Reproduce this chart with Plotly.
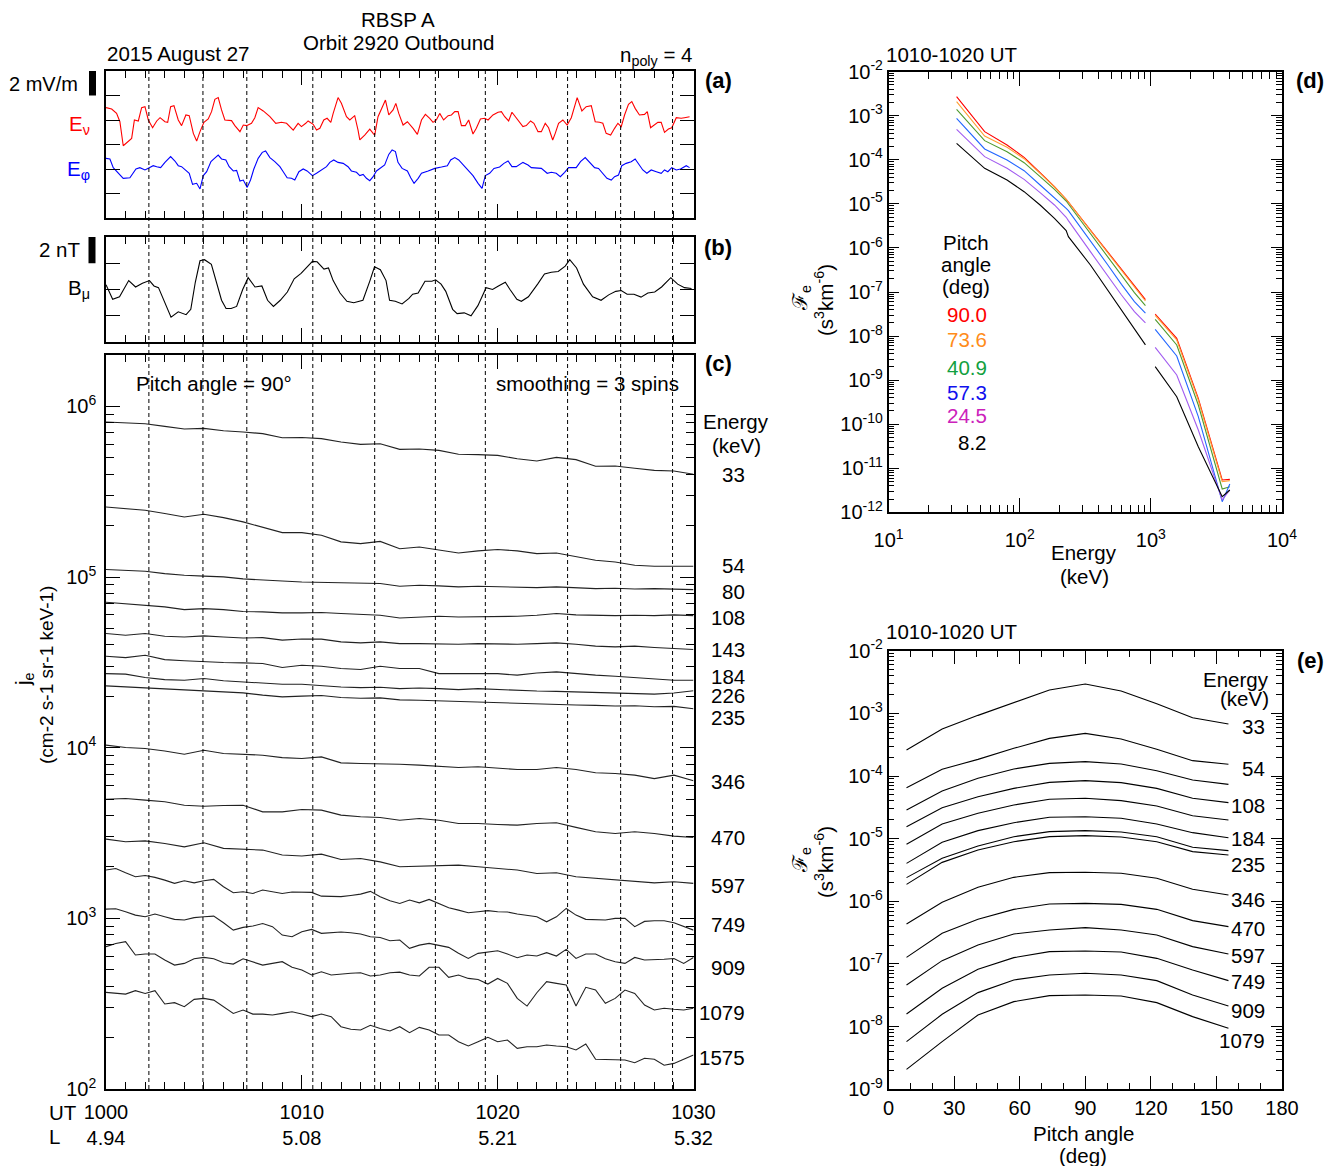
import plotly.graph_objects as go

# page is rendered with the browser's default 8px body margin; compensate so the
# picture lands on the reference pixel grid
OFF = 8
W, H = 1334 - OFF, 1166 - OFF
FONT = "Liberation Sans, Arial, Helvetica, sans-serif"
TXT = 20.5


def fx(px):
    return (px - OFF) / W


def fy(py):
    return 1 - (py - OFF) / H


# ======================= DATA =======================
# time axis: minutes after 1000 UT, 2015 August 27
ut_ticks = [0, 10, 20, 30]
ut_labels = ["1000", "1010", "1020", "1030"]
L_labels = ["4.94", "5.08", "5.21", "5.32"]
wave_times = [2.19, 4.95, 7.19, 10.56, 13.72, 16.82, 19.37, 23.57, 26.28, 28.93]

# ---- panel (a): E_nu, E_phi perturbations (mV/m)
t_Enu = [0.00, 0.29, 0.54, 0.71, 0.88, 1.31, 1.45, 1.65, 1.82, 1.99, 2.16, 2.38, 2.59, 2.76, 3.01, 3.15,
         3.30, 3.47, 3.69, 3.86, 4.08, 4.25, 4.46, 4.63, 4.80, 5.00, 5.22, 5.39, 5.56, 5.73, 5.90, 6.07,
         6.41, 6.58, 6.84, 7.01, 7.18, 7.43, 7.60, 7.77, 8.03, 8.37, 8.67, 8.96, 9.22, 9.39, 9.56, 9.81,
         9.98, 10.20, 10.32, 10.58, 10.75, 10.92, 11.12, 11.29, 11.48, 11.60, 11.85, 12.02, 12.28, 12.45,
         12.70, 12.87, 12.96, 13.21, 13.47, 13.64, 13.72, 13.89, 14.06, 14.27, 14.44, 14.66, 14.80,
         14.95, 15.17, 15.39, 15.68, 15.90, 16.11, 16.31, 16.53, 16.70, 16.87, 17.04, 17.24, 17.47, 17.64,
         17.81, 17.98, 18.15, 18.35, 18.52, 18.74, 18.91, 19.12, 19.34, 19.51, 19.76, 20.02, 20.19, 20.36,
         20.56, 20.73, 20.90, 21.12, 21.29, 21.46, 21.68, 21.85, 22.06, 22.23, 22.43, 22.60, 22.81, 22.94,
         23.11, 23.33, 23.55, 23.76, 23.89, 24.06, 24.30, 24.52, 24.78, 24.98, 25.20, 25.37, 25.54, 25.77,
         25.97, 26.14, 26.31, 26.48, 26.68, 26.85, 27.02, 27.24, 27.50, 27.64, 27.81, 28.01, 28.18, 28.35,
         28.52, 28.72, 28.89, 29.12, 29.37, 29.54, 29.80]
E_nu = [1.01, 0.90, 0.54, -0.14, -2.10, -1.50, 0.00, -0.08, 1.01, 1.09, 0.00, -0.63, -0.08, 0.19, -0.14, -0.19,
        1.09, 1.17, 0.00, -0.46, 0.41, 0.35, -1.09, -1.72, -0.95, -0.19, 0.08, 0.68, 1.69, 1.83, 0.82, 0.00,
        -0.05, -0.46, -0.95, -0.41, -0.46, -0.27, 0.19, 1.01, 0.74, 0.27, -0.27, -0.19, -0.27, -0.54, -0.82, -0.27,
        -0.54, -0.27, -0.08, -0.35, -0.82, -0.68, 0.00, 0.14, -0.19, 0.54, 1.83, 1.36, 0.27, 0.00,
        0.35, -0.82, -1.63, -1.23, -0.74, -1.09, -1.23, 0.27, 0.82, 1.63, 0.41, 0.82, 1.36,
        0.54, -0.41, -0.14, -0.68, -1.17, 0.00, 0.46, 0.14, -0.19, 0.00, 0.54, 0.00, 0.35, 0.41,
        0.68, 0.68, -0.46, -0.46, 0.00, -1.14, -0.68, 0.08, 0.14, 0.00, 0.41, 0.63, 0.68, 0.27,
        -0.08, 0.63, 0.27, -0.27, -0.54, -0.46, -0.08, -0.27, -0.95, -0.95, -0.27, -0.63, -1.63, -1.09,
        -0.27, 0.00, -0.41, 0.19, 0.95, 1.83, 0.74, 1.09, 1.17, -0.14, -0.19, -0.27, -1.09, -1.23,
        -0.68, -0.27, -0.54, 0.41, 1.28, 1.50, 0.95, 0.41, 0.46, 0.68, -0.63, -0.41, -0.19, -0.19,
        -1.01, -0.74, -0.63, 0.19, 0.14, 0.19, 0.27]

t_Ephi = [0.00, 0.20, 0.37, 0.63, 0.88, 1.22, 1.39, 1.53, 1.73, 1.99, 2.21, 2.41, 2.59, 2.79, 3.01,
          3.30, 3.52, 3.69, 3.86, 4.08, 4.25, 4.42, 4.63, 4.80, 4.97, 5.14, 5.36, 5.51, 5.73, 5.90,
          6.12, 6.29, 6.50, 6.67, 6.84, 7.01, 7.21, 7.38, 7.55, 7.77, 7.98, 8.15, 8.37, 8.62, 8.88,
          9.05, 9.25, 9.47, 9.64, 9.85, 10.07, 10.27, 10.54, 10.75, 11.00, 11.26, 11.43, 11.63, 11.85, 12.11,
          12.36, 12.53, 12.79, 12.96, 13.13, 13.30, 13.47, 13.64, 13.81, 14.01, 14.23, 14.44, 14.61, 14.78,
          14.91, 15.12, 15.39, 15.56, 15.73, 15.94, 16.11, 16.45, 16.79, 17.13, 17.43, 17.60, 17.81, 18.01,
          18.23, 18.49, 18.74, 19.00, 19.20, 19.37, 19.59, 19.81, 20.10, 20.32, 20.53, 20.73, 20.95, 21.29,
          21.55, 21.72, 22.23, 22.53, 22.74, 22.99, 23.20, 23.42, 23.62, 24.01, 24.23, 24.47, 24.69, 24.95,
          25.15, 25.37, 25.58, 25.80, 25.97, 26.17, 26.34, 26.56, 26.82, 27.02, 27.24, 27.41, 27.62, 27.84,
          28.10, 28.35, 28.52, 28.69, 28.89, 29.12, 29.34, 29.63, 29.80]
E_phi = [0.87, 0.82, 0.11, -0.35, -0.76, -0.71, -0.35, 0.00, 0.11, -0.08, 0.11, 0.27, 0.19, 0.11, 0.54,
         1.01, 0.65, 0.27, 0.19, -0.16, -0.35, -1.25, -1.17, -1.63, -0.54, -0.22, 0.60, 0.82, 1.14, 0.82,
         0.74, 0.19, -0.16, -0.11, -0.98, -0.90, -1.50, -0.90, 0.00, 0.87, 1.36, 1.47, 0.93, 0.60, 0.19,
         -0.22, -0.71, -0.76, -0.90, -0.22, 0.00, -0.16, -0.54, -0.35, -0.08, 0.19, 0.54, 0.74, 0.54, 0.46,
         0.19, -0.16, -0.27, -0.54, -0.44, -0.76, -0.95, -0.63, -0.16, 0.11, 0.33, 1.19, 1.55, 1.42,
         0.54, 0.05, -0.16, -0.71, -1.17, -0.76, -0.35, -0.16, 0.05, 0.16, 0.27, 0.74, 0.93, 0.74,
         0.33, -0.08, -0.54, -1.17, -1.58, -0.54, -0.35, 0.05, 0.16, 0.46, 0.65, 0.19, 0.19, 0.54,
         0.33, 0.11, 0.05, -0.35, -0.27, -0.35, -0.63, -0.27, 0.11, 0.11, 0.60, 0.93, 0.54, 0.11,
         0.05, -0.35, -0.76, -0.90, -0.63, -0.49, 0.27, 0.46, 0.60, 0.82, 0.33, -0.08, -0.35, -0.08,
         -0.22, -0.35, -0.08, -0.22, 0.11, -0.08, 0.00, 0.27, 0.11]

# ---- panel (b): B_mu perturbation (nT)
t_Bmu = [0.00, 0.34, 0.69, 1.16, 1.51, 1.86, 2.22, 2.45, 2.68, 3.04, 3.32, 3.69, 4.09, 4.33, 4.56,
         4.80, 5.03, 5.38, 5.62, 5.90, 6.13, 6.39, 6.67, 6.98, 7.26, 7.61, 7.96, 8.25, 8.55, 8.90,
         9.26, 9.61, 9.96, 10.31, 10.54, 10.78, 11.13, 11.36, 11.60, 11.95, 12.30, 12.65, 13.12, 13.48, 13.71,
         14.01, 14.30, 14.48, 14.77, 15.12, 15.47, 15.66, 15.94, 16.29, 16.64, 16.83, 17.11, 17.35, 17.70, 17.93,
         18.29, 18.64, 18.99, 19.41, 19.74, 20.04, 20.39, 20.63, 20.98, 21.21, 21.57, 22.04, 22.39, 22.74, 23.09,
         23.45, 23.68, 24.03, 24.38, 24.85, 25.28, 25.67, 26.03, 26.31, 26.61, 26.96, 27.32, 27.67, 28.02, 28.37,
         28.84, 29.19, 29.54, 29.90]
B_mu = [0.36, -0.74, -0.55, 0.68, 0.19, 0.47, 0.68, 0.27, 0.14, -1.10, -2.11, -1.70, -1.92, -1.51, 0.55,
        2.19, 2.27, 1.92, 0.68, -0.82, -1.45, -1.45, -1.29, 0.00, 0.90, 0.19, 0.27, -0.82, -1.29, -0.82,
        -0.19, 0.82, 1.23, 1.78, 2.14, 2.11, 1.56, 1.64, 0.68, -0.27, -0.90, -1.01, -0.82, 0.68, 1.73,
        1.51, 0.68, -0.82, -0.90, -1.10, -0.68, -0.36, -0.27, 0.63, 0.63, 0.74, 0.41, -0.14, -1.51, -1.84,
        -1.78, -2.00, -1.23, 0.14, 0.00, 0.27, 0.55, 0.00, -0.74, -0.90, -0.55, 0.41, 1.18, 1.32, 1.37,
        1.78, 2.27, 1.64, 0.41, -0.55, -0.82, -0.41, -0.14, -0.08, -0.36, -0.36, -0.58, -0.27, -0.19, 0.19,
        0.90, 0.41, 0.14, 0.08]

# ---- panel (c): log10 of j_e (cm-2 s-1 sr-1 keV-1), pitch angle 90 deg
t_1min = list(range(31))                  # sample times, 1-min cadence
t_half = [i * 0.5 for i in range(61)]     # sample times, 0.5-min cadence
je33 = [5.908, 5.904, 5.898, 5.883, 5.867, 5.871, 5.857, 5.850, 5.840, 5.816, 5.818, 5.811, 5.791, 5.777, 5.781, 5.748,
        5.750, 5.742, 5.719, 5.717, 5.713, 5.693, 5.680, 5.701, 5.688, 5.649, 5.651, 5.637, 5.625, 5.621, 5.602]
je54 = [5.410, 5.401, 5.391, 5.372, 5.352, 5.368, 5.348, 5.323, 5.293, 5.260, 5.260, 5.245, 5.206, 5.196, 5.209, 5.166,
        5.176, 5.157, 5.141, 5.153, 5.161, 5.153, 5.137, 5.141, 5.118, 5.098, 5.088, 5.069, 5.063, 5.063, 5.063]
je80 = [5.044, 5.040, 5.034, 5.020, 5.010, 5.005, 5.001, 4.989, 4.985, 4.977, 4.971, 4.969, 4.966, 4.962, 4.962, 4.946,
        4.952, 4.948, 4.942, 4.946, 4.942, 4.940, 4.938, 4.942, 4.936, 4.932, 4.934, 4.930, 4.932, 4.928, 4.926]
je108 = [4.852, 4.844, 4.835, 4.825, 4.809, 4.815, 4.809, 4.798, 4.796, 4.790, 4.790, 4.792, 4.786, 4.782, 4.776, 4.760,
         4.766, 4.770, 4.766, 4.766, 4.770, 4.770, 4.776, 4.786, 4.778, 4.774, 4.774, 4.776, 4.774, 4.778, 4.774]
je143 = [4.669, 4.659, 4.669, 4.653, 4.649, 4.655, 4.649, 4.643, 4.645, 4.630, 4.637, 4.636, 4.620, 4.614, 4.620, 4.610,
         4.610, 4.606, 4.606, 4.610, 4.606, 4.606, 4.610, 4.614, 4.606, 4.595, 4.591, 4.595, 4.587, 4.581, 4.575]
je184 = [4.536, 4.528, 4.542, 4.516, 4.509, 4.503, 4.499, 4.497, 4.493, 4.470, 4.483, 4.477, 4.464, 4.458, 4.477, 4.464,
         4.464, 4.434, 4.434, 4.438, 4.434, 4.425, 4.438, 4.444, 4.434, 4.425, 4.419, 4.411, 4.399, 4.395, 4.395]
je226 = [4.434, 4.431, 4.411, 4.399, 4.395, 4.405, 4.392, 4.386, 4.376, 4.372, 4.372, 4.362, 4.356, 4.352, 4.354, 4.346,
         4.350, 4.346, 4.340, 4.346, 4.340, 4.336, 4.332, 4.330, 4.326, 4.326, 4.322, 4.318, 4.314, 4.320, 4.334]
je235 = [4.362, 4.356, 4.351, 4.345, 4.337, 4.333, 4.329, 4.321, 4.308, 4.298, 4.302, 4.306, 4.294, 4.290, 4.292, 4.280,
         4.278, 4.274, 4.270, 4.266, 4.264, 4.262, 4.258, 4.254, 4.250, 4.248, 4.244, 4.246, 4.240, 4.242, 4.228]
je346 = [4.015, 4.001, 3.995, 3.981, 3.962, 3.985, 3.966, 3.962, 3.956, 3.942, 3.937, 3.946, 3.911, 3.907, 3.907, 3.903,
         3.898, 3.892, 3.884, 3.888, 3.878, 3.872, 3.872, 3.884, 3.872, 3.853, 3.849, 3.839, 3.819, 3.839, 3.806]
je470 = [3.698, 3.702, 3.693, 3.683, 3.663, 3.657, 3.661, 3.663, 3.624, 3.624, 3.638, 3.634, 3.605, 3.595, 3.591, 3.575,
         3.585, 3.575, 3.556, 3.556, 3.550, 3.546, 3.556, 3.560, 3.533, 3.507, 3.497, 3.507, 3.497, 3.482, 3.474]
je597 = [3.464, 3.449, 3.454, 3.439, 3.419, 3.443, 3.410, 3.404, 3.400, 3.371, 3.365, 3.376, 3.345, 3.351, 3.331, 3.302,
         3.306, 3.306, 3.312, 3.302, 3.292, 3.283, 3.263, 3.267, 3.244, 3.234, 3.224, 3.214, 3.208, 3.214, 3.205]
je749 = [3.283, 3.292, 3.267, 3.244, 3.251, 3.240, 3.224, 3.205, 3.220, 3.208, 3.220, 3.228, 3.185, 3.150, 3.156, 3.146,
         3.166, 3.156, 3.146, 3.154, 3.152, 3.152, 3.130, 3.127, 3.127, 3.134, 3.142, 3.158, 3.127, 3.103, 3.087, 3.107,
         3.091, 3.111, 3.087, 3.062, 3.048, 3.033, 3.039, 3.045, 3.039, 3.037, 3.025, 3.017, 3.009, 2.980, 3.009, 3.058,
         3.019, 2.994, 2.990, 2.990, 3.000, 3.000, 2.951, 2.982, 2.986, 2.986, 2.974, 2.951, 2.931]
je909 = [3.054, 3.056, 3.039, 3.019, 3.009, 3.025, 3.009, 2.994, 2.990, 3.004, 3.009, 3.013, 2.974, 2.931, 2.947, 2.955,
         2.970, 2.951, 2.902, 2.892, 2.922, 2.935, 2.912, 2.916, 2.920, 2.916, 2.908, 2.892, 2.888, 2.869, 2.873, 2.824,
         2.843, 2.853, 2.843, 2.830, 2.795, 2.765, 2.795, 2.804, 2.810, 2.791, 2.769, 2.785, 2.779, 2.799, 2.779, 2.818,
         2.765, 2.791, 2.791, 2.763, 2.746, 2.736, 2.771, 2.756, 2.756, 2.760, 2.765, 2.736, 2.771]
je1079 = [2.834, 2.853, 2.863, 2.785, 2.791, 2.791, 2.756, 2.726, 2.736, 2.763, 2.771, 2.763, 2.740, 2.732, 2.763, 2.746,
          2.726, 2.736, 2.746, 2.713, 2.697, 2.668, 2.687, 2.668, 2.674, 2.678, 2.681, 2.662, 2.668, 2.681, 2.685, 2.668,
          2.662, 2.713, 2.713, 2.654, 2.668, 2.648, 2.642, 2.615, 2.648, 2.619, 2.531, 2.486, 2.564, 2.629, 2.619, 2.609,
          2.486, 2.596, 2.580, 2.502, 2.531, 2.580, 2.560, 2.492, 2.463, 2.473, 2.467, 2.463, 2.473]
je1575 = [2.566, 2.560, 2.556, 2.576, 2.560, 2.576, 2.498, 2.506, 2.482, 2.525, 2.531, 2.521, 2.482, 2.443, 2.463, 2.439,
          2.439, 2.434, 2.443, 2.453, 2.439, 2.424, 2.439, 2.424, 2.365, 2.350, 2.346, 2.373, 2.355, 2.340, 2.365, 2.330,
          2.361, 2.346, 2.316, 2.316, 2.277, 2.252, 2.277, 2.303, 2.277, 2.287, 2.238, 2.248, 2.248, 2.258, 2.252, 2.248,
          2.229, 2.264, 2.174, 2.174, 2.170, 2.170, 2.154, 2.180, 2.174, 2.139, 2.150, 2.174, 2.199]
energies_c = ["33", "54", "80", "108", "143", "184", "226", "235", "346", "470", "597", "749", "909", "1079", "1575"]

# ---- panel (d): log10 phase space density vs energy, 1010-1020 UT
E_low = [33, 54, 80, 108, 143, 184, 226, 235, 346, 470, 597, 749, 909]
E_high = [1079, 1575, 2300, 3500, 4000]
fd_red = [-2.567, -3.361, -3.664, -3.944, -4.292, -4.609, -4.897, -4.957, -5.593, -6.092, -6.486, -6.849, -7.174,
          -7.499, -8.052, -9.413, -11.267, -11.252]
fd_orange = [-2.680, -3.459, -3.717, -3.974, -4.307, -4.617, -4.897, -4.957, -5.608, -6.122, -6.516, -6.879, -7.204,
             -7.530, -8.089, -9.451, -11.305, -11.282]
fd_green = [-2.854, -3.565, -3.815, -4.065, -4.382, -4.670, -4.935, -5.003, -5.684, -6.213, -6.637, -7.015, -7.310,
            -7.620, -8.203, -9.565, -11.471, -11.418]
fd_blue = [-3.058, -3.754, -4.004, -4.246, -4.571, -4.851, -5.101, -5.154, -5.835, -6.387, -6.826, -7.220, -7.480,
           -7.847, -8.453, -9.830, -11.759, -11.358]
fd_purple = [-3.308, -3.928, -4.193, -4.443, -4.746, -5.025, -5.305, -5.381, -6.085, -6.637, -7.068, -7.446, -7.700,
             -8.256, -8.884, -10.132, -11.721, -11.494]
fd_black = [-3.626, -4.193, -4.458, -4.723, -5.025, -5.328, -5.608, -5.744, -6.387, -6.955, -7.424, -7.825, -8.200,
            -8.695, -9.376, -10.510, -11.645, -11.494]
pa_labels_d = ["90.0", "73.6", "40.9", "57.3", "24.5", "8.2"]

# ---- panel (e): log10 phase space density vs pitch angle, 1010-1020 UT
pitch_e = [8.2, 24.5, 40.9, 57.3, 73.6, 90.0, 106.4, 122.7, 139.1, 155.5]
fe33 = [-3.585, -3.250, -3.032, -2.824, -2.627, -2.531, -2.643, -2.845, -3.069, -3.170]
fe54 = [-4.186, -3.893, -3.734, -3.558, -3.399, -3.319, -3.409, -3.574, -3.755, -3.813]
fe80 = [-4.542, -4.239, -4.037, -3.888, -3.798, -3.771, -3.808, -3.915, -4.064, -4.133]
fe108 = [-4.808, -4.505, -4.330, -4.197, -4.101, -4.074, -4.106, -4.197, -4.356, -4.425]
fe143 = [-5.090, -4.766, -4.595, -4.463, -4.372, -4.356, -4.393, -4.478, -4.633, -4.702]
fe184 = [-5.394, -5.058, -4.872, -4.745, -4.659, -4.649, -4.675, -4.766, -4.904, -4.984]
fe226 = [-5.622, -5.314, -5.117, -4.968, -4.888, -4.872, -4.893, -4.968, -5.138, -5.191]
fe235 = [-5.729, -5.378, -5.181, -5.048, -4.968, -4.952, -4.973, -5.048, -5.207, -5.260]
fe346 = [-6.362, -6.016, -5.776, -5.617, -5.542, -5.537, -5.553, -5.633, -5.808, -5.899]
fe470 = [-6.894, -6.511, -6.287, -6.128, -6.042, -6.032, -6.048, -6.128, -6.308, -6.404]
fe597 = [-7.335, -6.947, -6.697, -6.521, -6.457, -6.420, -6.457, -6.537, -6.723, -6.840]
fe749 = [-7.798, -7.388, -7.085, -6.899, -6.803, -6.793, -6.808, -6.910, -7.096, -7.266]
fe909 = [-8.239, -7.803, -7.457, -7.255, -7.175, -7.149, -7.175, -7.266, -7.495, -7.670]
fe1079 = [-8.681, -8.239, -7.814, -7.601, -7.505, -7.495, -7.511, -7.617, -7.840, -8.027]
energies_e_labelled = ["33", "54", "108", "184", "235", "346", "470", "597", "749", "909", "1079"]

# ======================= FIGURE =======================
A_X = [fx(106), fx(693.5)]
A_Y = [fy(218), fy(71)]
B_Y = [fy(342), fy(237)]
C_Y = [fy(1089), fy(355)]
D_X = [fx(888.6), fx(1282)]
D_Y = [fy(512.3), fy(71.7)]
E_Y = [fy(1089.3), fy(650.7)]

fig = go.Figure()

NU_OFFSET, PHI_OFFSET = 2.0, -2.0
fig.add_trace(go.Scatter(x=t_Enu, y=[v + NU_OFFSET for v in E_nu], xaxis="x", yaxis="y",
                         mode="lines", line=dict(color="#ff0000", width=1.1)))
fig.add_trace(go.Scatter(x=t_Ephi, y=[v + PHI_OFFSET for v in E_phi], xaxis="x", yaxis="y",
                         mode="lines", line=dict(color="#0000ff", width=1.1)))
fig.add_trace(go.Scatter(x=t_Bmu, y=B_mu, xaxis="x2", yaxis="y2",
                         mode="lines", line=dict(color="black", width=1.1)))

series_c = [je33, je54, je80, je108, je143, je184, je226, je235, je346, je470, je597,
            je749, je909, je1079, je1575]
for s in series_c:
    tt = t_1min if len(s) == len(t_1min) else t_half
    fig.add_trace(go.Scatter(x=tt, y=[10 ** v for v in s], xaxis="x3", yaxis="y3",
                             mode="lines", line=dict(color="#222222", width=1.1)))

d_colors = ["#ff0000", "#ffa033", "#4e9a2e", "#2266ff", "#a25cf0", "#000000"]
d_series = [fd_red, fd_orange, fd_green, fd_blue, fd_purple, fd_black]
nlow = len(E_low)
for col, s in zip(d_colors, d_series):
    xs = E_low + [None] + E_high
    ys = [10 ** v for v in s[:nlow]] + [None] + [10 ** v for v in s[nlow:]]
    fig.add_trace(go.Scatter(x=xs, y=ys, xaxis="x4", yaxis="y4", mode="lines",
                             line=dict(color=col, width=1.1), connectgaps=False))

for s in [fe33, fe54, fe80, fe108, fe143, fe184, fe226, fe235, fe346, fe470, fe597, fe749, fe909, fe1079]:
    fig.add_trace(go.Scatter(x=pitch_e, y=[10 ** v for v in s], xaxis="x5", yaxis="y5",
                             mode="lines", line=dict(color="black", width=1.1)))

TICKFONT = dict(family=FONT, size=20, color="black")


def ax(**kw):
    base = dict(showline=True, linecolor="black", linewidth=1.5, mirror="allticks",
                ticks="inside", tickcolor="black", tickwidth=1.2, showgrid=False,
                zeroline=False, tickfont=TICKFONT, automargin=False)
    base.update(kw)
    return base


def minor(vals, ln):
    return dict(tickmode="array", tickvals=vals, ticks="inside", ticklen=ln,
                tickcolor="black", tickwidth=1.2, showgrid=False)


minutes = list(range(31))
time_common = dict(range=[0, 30], tickmode="array", tickvals=ut_ticks, ticklen=14,
                   minor=minor(minutes, 7))


def dec_minor(lo, hi):
    return [k * 10.0 ** e for e in range(lo, hi) for k in range(2, 10)]


def sup(e):
    return "10<sup>%d</sup>" % e


fig.update_layout(
    width=W, height=H, margin=dict(l=0, r=0, t=0, b=0, pad=0), autosize=False,
    paper_bgcolor="white", plot_bgcolor="white", showlegend=False,
    font=dict(family=FONT, size=TXT, color="black"),
    xaxis=ax(domain=A_X, anchor="y", showticklabels=False, **time_common),
    yaxis=ax(domain=A_Y, anchor="x", range=[-6, 6], tickvals=[-4, -2, 0, 2, 4], ticklen=14,
             showticklabels=False),
    xaxis2=ax(domain=A_X, anchor="y2", showticklabels=False, **time_common),
    yaxis2=ax(domain=B_Y, anchor="x2", range=[-4, 4], tickvals=[-2, 0, 2], ticklen=14,
              showticklabels=False),
    xaxis3=ax(domain=A_X, anchor="y3", ticktext=[u + "<br>" + l for u, l in zip(ut_labels, L_labels)],
              ticklabelstandoff=4, **time_common),
    yaxis3=ax(domain=C_Y, anchor="x3", type="log", range=[2, 6.301],
              tickmode="array", tickvals=[1e2, 1e3, 1e4, 1e5, 1e6], ticktext=[sup(e) for e in range(2, 7)],
              ticklen=14, minor=minor(dec_minor(2, 7), 8), ticklabelstandoff=4),
    xaxis4=ax(domain=D_X, anchor="y4", type="log", range=[1, 4], tickmode="array",
              tickvals=[1e1, 1e2, 1e3, 1e4], ticktext=[sup(e) for e in range(1, 5)], ticklen=15,
              minor=minor(dec_minor(1, 4), 8), ticklabelstandoff=9),
    yaxis4=ax(domain=D_Y, anchor="x4", type="log", range=[-12, -2], tickmode="array",
              tickvals=[10.0 ** e for e in range(-12, -1)], ticktext=[sup(e) for e in range(-12, -1)],
              ticklen=11, minor=minor(dec_minor(-12, -2), 6), ticklabelstandoff=0),
    xaxis5=ax(domain=D_X, anchor="y5", range=[0, 180], tickmode="array",
              tickvals=[0, 30, 60, 90, 120, 150, 180], ticklen=14,
              minor=minor(list(range(0, 181, 10)), 7), ticklabelstandoff=0),
    yaxis5=ax(domain=E_Y, anchor="x5", type="log", range=[-9, -2], tickmode="array",
              tickvals=[10.0 ** e for e in range(-9, -1)], ticktext=[sup(e) for e in range(-9, -1)],
              ticklen=11, minor=minor(dec_minor(-9, -2), 6), ticklabelstandoff=0),
)

shapes = []
for t in wave_times:
    shapes.append(dict(type="line", xref="x3", yref="paper", x0=t, x1=t, y0=C_Y[0], y1=A_Y[1],
                       line=dict(color="black", width=1, dash="4px,3px"), layer="above"))
# scale bars: 2 mV/m and 2 nT
shapes.append(dict(type="line", xref="paper", yref="y", x0=fx(92.5), x1=fx(92.5), y0=4, y1=6,
                   line=dict(color="black", width=7)))
shapes.append(dict(type="line", xref="paper", yref="y2", x0=fx(92.0), x1=fx(92.0), y0=2, y1=4,
                   line=dict(color="black", width=7)))
fig.update_layout(shapes=shapes)

annotations = []


def ann(text, xp, yp, xa="center", ya="middle", size=TXT, color="black", angle=0):
    annotations.append(dict(text=text, x=fx(xp), y=fy(yp), xref="paper", yref="paper",
                            xanchor=xa, yanchor=ya, showarrow=False, textangle=angle,
                            borderpad=0, font=dict(family=FONT, size=size, color=color)))


ann("RBSP A", 398, 19.5)
ann("Orbit 2920 Outbound", 398, 42)
ann("2015 August 27", 106, 53, xa="left")
ann("n<sub>poly</sub> = 4", 694, 56, xa="right")
ann("<b>(a)</b>", 718, 80, size=22)
ann("<b>(b)</b>", 718, 248, size=22)
ann("<b>(c)</b>", 718, 363, size=22)
ann("<b>(d)</b>", 1310, 80, size=22)
ann("<b>(e)</b>", 1310, 660, size=22)
ann("2 mV/m", 79, 84, xa="right", size=20)
ann("E<sub>ν</sub>", 91, 125, xa="right", color="#ff0000")
ann("E<sub>φ</sub>", 91, 170, xa="right", color="#0000ff")
ann("2 nT", 81, 249, xa="right")
ann("B<sub>μ</sub>", 91, 289, xa="right")
ann("Pitch angle = 90°", 135, 383, xa="left")
ann("smoothing = 3 spins", 680, 384, xa="right")
ann("Energy", 736, 421)
ann("(keV)", 736, 445)
c_label_y = [475, 565, 591, 617, 649, 676, 695, 717, 781, 837, 885, 924, 968, 1012, 1057]
for lab, yy in zip(energies_c, c_label_y):
    ann(lab, 746, yy, xa="right")
ann("UT", 48, 1112, xa="left")
ann("L", 48, 1136, xa="left")
ann("j<sub>e</sub>", 24, 679, angle=-90)
ann("(cm-2 s-1 sr-1 keV-1)", 46, 675, angle=-90, size=19)

# panel d
ann("1010-1020 UT", 885, 55, xa="left")
ann("ℱ<sub>e</sub>", 801, 298, angle=-90)
ann("(s<sup>3</sup>km<sup>-6</sup>)", 824, 300, angle=-90)
ann("Energy", 1084, 552)
ann("(keV)", 1084, 576)
ann("Pitch", 966, 243)
ann("angle", 966, 264)
ann("(deg)", 966, 286)
d_label_colors = ["#ff0000", "#ff8c1a", "#12a040", "#1010ee", "#cc22bb", "#000000"]
d_label_y = [314, 339, 367, 392, 416, 442]
for lab, col, yy in zip(pa_labels_d, d_label_colors, d_label_y):
    ann(lab, 988, yy, xa="right", color=col)

# panel e
ann("1010-1020 UT", 885, 631, xa="left")
ann("ℱ<sub>e</sub>", 801, 860, angle=-90)
ann("(s<sup>3</sup>km<sup>-6</sup>)", 824, 862, angle=-90)
ann("Pitch angle", 1083, 1133)
ann("(deg)", 1083, 1155)
ann("Energy", 1270, 679, xa="right")
ann("(keV)", 1270, 698, xa="right")
e_label_y = [727, 768, 805, 838, 864, 899, 928, 955, 981, 1010, 1040]
for lab, yy in zip(energies_e_labelled, e_label_y):
    ann(lab, 1266, yy, xa="right")

fig.update_layout(annotations=annotations)
fig.write_html("out.html")
